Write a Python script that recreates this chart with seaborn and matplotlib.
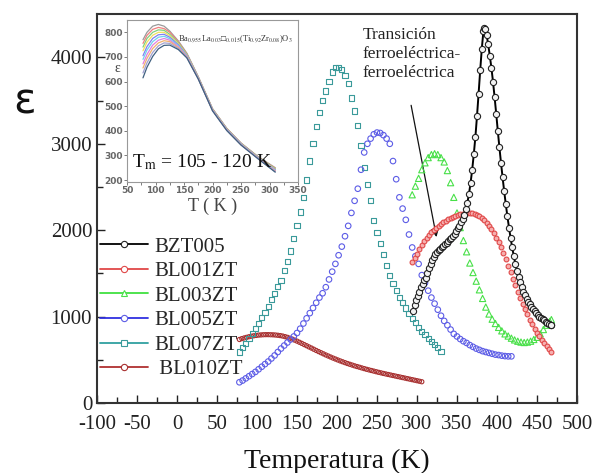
import numpy as np
import pandas as pd
import matplotlib
matplotlib.use("Agg")
import matplotlib.pyplot as plt
from matplotlib.lines import Line2D
import seaborn as sns

# ---------------- data ----------------
teal_T = [78, 82, 86, 90, 94, 98, 102, 106, 110, 114, 118, 122, 126, 130, 134, 138, 142, 146, 150, 154,
          158, 162, 166, 170, 174, 178, 182, 186, 190, 194, 198, 202, 206, 210, 214, 218, 222, 226, 230, 234,
          238, 242, 246, 250, 254, 258, 262, 266, 270, 274, 278, 282, 286, 290, 294, 298, 302, 306, 310, 314,
          318, 322, 326, 330]
teal_E = [590, 640, 690, 745, 800, 860, 920, 985, 1050, 1120, 1195, 1270, 1345, 1420, 1530, 1640, 1760, 1900, 2050, 2210,
          2380, 2580, 2800, 3000, 3200, 3360, 3500, 3610, 3720, 3830, 3880, 3885, 3860, 3790, 3700, 3530, 3380, 3210, 2980, 2730,
          2530, 2340, 2110, 1970, 1850, 1720, 1590, 1480, 1380, 1300, 1225, 1160, 1100, 1040, 980, 930, 875, 830, 790, 750,
          710, 675, 640, 600]

blue_T = [78, 82, 86, 90, 94, 98, 102, 106, 110, 114, 118, 122, 126, 130, 134, 138, 142, 146, 150, 154,
          158, 162, 166, 170, 174, 178, 182, 186, 190, 194, 198, 202, 206, 210, 214, 218, 222, 226, 230, 234,
          238, 242, 246, 250, 254, 258, 262, 266, 270, 274, 278, 282, 286, 290, 294, 298, 302, 306, 310, 314,
          318, 322, 326, 330, 334, 338, 342, 346, 350, 354, 358, 362, 366, 370, 374, 378, 382, 386, 390, 394,
          398, 402, 406, 410, 414, 418]
blue_E = [240, 260, 285, 310, 335, 360, 390, 420, 450, 480, 515, 550, 590, 630, 665, 700, 735, 770, 810, 860,
          920, 980, 1040, 1100, 1160, 1220, 1270, 1340, 1430, 1520, 1610, 1710, 1810, 1930, 2050, 2200, 2340, 2480, 2700, 2900,
          3000, 3060, 3110, 3130, 3125, 3100, 3060, 3000, 2800, 2590, 2380, 2250, 2120, 1950, 1800, 1700, 1610, 1480, 1390, 1300,
          1220, 1150, 1080, 1010, 950, 900, 850, 800, 770, 740, 715, 695, 670, 650, 630, 615, 600, 590, 580, 570,
          560, 555, 548, 543, 540, 540]

green_T = [294, 298, 302, 306, 310, 314, 318, 322, 326, 330, 334, 338, 342, 346, 350, 354, 358, 362, 366, 370,
           374, 378, 382, 386, 390, 394, 398, 402, 406, 410, 414, 418, 422, 426, 430, 434, 438, 442, 446, 450,
           454, 458, 462, 466, 468]
green_E = [2410, 2510, 2600, 2700, 2780, 2840, 2875, 2885, 2875, 2840, 2790, 2690, 2550, 2380, 2200, 2030, 1880, 1750, 1620, 1510,
           1410, 1310, 1210, 1110, 1030, 970, 920, 875, 835, 800, 775, 750, 730, 715, 705, 700, 705, 715, 735, 760,
           800, 850, 900, 945, 965]

red_T = [294, 297, 300, 303, 306, 309, 312, 315, 318, 321, 324, 327, 330, 333, 336, 339, 342, 345, 348, 351,
         354, 357, 360, 363, 366, 369, 372, 375, 378, 381, 384, 387, 390, 393, 396, 399, 402, 405, 408, 411,
         414, 417, 420, 423, 426, 429, 432, 435, 438, 441, 444, 447, 450, 453, 456, 459, 462, 465, 468]
red_E = [1630, 1680, 1730, 1780, 1830, 1870, 1910, 1945, 1975, 2000, 2025, 2050, 2070, 2090, 2110, 2125, 2140, 2155, 2165, 2175,
         2185, 2192, 2198, 2200, 2200, 2198, 2190, 2178, 2160, 2140, 2115, 2085, 2050, 2010, 1965, 1915, 1860, 1800, 1735, 1665,
         1590, 1515, 1440, 1365, 1290, 1220, 1150, 1085, 1025, 965, 910, 860, 815, 770, 730, 690, 655, 620, 590]

black_T = [295, 297, 299, 301, 303, 305, 307, 309, 311, 313, 315, 317, 319, 321, 323, 325, 327, 329, 331, 333,
           335, 337, 339, 341, 343, 345, 347, 349, 351, 353, 355, 357, 359, 361, 363, 365, 367, 369, 371, 373,
           375, 377, 379, 381, 383, 384, 385, 387, 389, 391, 393, 395, 397, 399, 401, 403, 405, 407, 409, 411,
           413, 415, 417, 419, 421, 423, 425, 427, 429, 431, 433, 435, 437, 439, 441, 443, 445, 447, 449, 451,
           453, 455, 457, 459, 461, 463, 465, 467, 468]
black_E = [1066, 1130, 1190, 1240, 1290, 1340, 1380, 1420, 1450, 1500, 1560, 1610, 1650, 1690, 1720, 1745, 1765, 1785, 1805, 1820,
           1840, 1855, 1875, 1895, 1915, 1935, 1960, 1990, 2020, 2050, 2090, 2130, 2180, 2240, 2320, 2420, 2550, 2700, 2880, 3080,
           3320, 3580, 3850, 4100, 4300, 4340, 4330, 4260, 4150, 4020, 3880, 3720, 3540, 3350, 3150, 2960, 2780, 2610, 2450, 2300,
           2160, 2030, 1910, 1800, 1700, 1610, 1530, 1460, 1395, 1340, 1290, 1245, 1205, 1170, 1140, 1110, 1085, 1060, 1040, 1020,
           1000, 985, 970, 955, 940, 928, 917, 907, 900]

dred_T = [78, 81, 84, 87, 90, 93, 96, 99, 102, 105, 108, 111, 114, 117, 120, 123, 126, 129, 132, 135,
          138, 141, 144, 147, 150, 153, 156, 159, 162, 165, 168, 171, 174, 177, 180, 183, 186, 189, 192, 195,
          198, 201, 204, 207, 210, 213, 216, 219, 222, 225, 228, 231, 234, 237, 240, 243, 246, 249, 252, 255,
          258, 261, 264, 267, 270, 273, 276, 279, 282, 285, 288, 291, 294, 297, 300, 303, 306]
dred_E = [735, 745, 753, 760, 767, 773, 778, 782, 786, 788, 790, 791, 791, 790, 789, 787, 784, 780, 775, 768,
          760, 750, 740, 728, 716, 703, 690, 676, 663, 649, 636, 622, 608, 595, 582, 569, 556, 544, 532, 520,
          509, 498, 487, 477, 467, 457, 448, 439, 430, 422, 414, 406, 398, 390, 383, 376, 369, 362, 355, 349,
          342, 336, 330, 324, 318, 312, 306, 300, 294, 288, 282, 276, 270, 264, 258, 252, 246]

series_names = ["BZT005", "BL001ZT", "BL003ZT", "BL005ZT", "BL007ZT", " BL010ZT"]

# inset: BL010ZT at several frequencies
inset_T = [78, 85, 95, 105, 115, 125, 140, 155, 175, 200, 225, 250, 280, 310]
inset_E = [
    [770, 800, 825, 832, 825, 805, 765, 715, 620, 490, 410, 350, 295, 250],
    [755, 788, 812, 820, 815, 800, 762, 712, 618, 489, 409, 350, 294, 248],
    [740, 775, 800, 810, 808, 792, 758, 710, 617, 488, 408, 349, 293, 246],
    [725, 760, 788, 800, 800, 786, 754, 708, 616, 487, 407, 348, 292, 244],
    [705, 742, 775, 790, 792, 780, 750, 706, 615, 486, 406, 347, 291, 242],
    [690, 728, 762, 780, 784, 774, 746, 704, 614, 485, 405, 346, 290, 240],
    [672, 710, 748, 768, 775, 768, 742, 702, 613, 484, 404, 345, 289, 238],
    [655, 694, 734, 757, 766, 762, 738, 700, 612, 483, 403, 344, 288, 236],
    [635, 676, 718, 745, 757, 755, 734, 698, 611, 482, 402, 343, 287, 234],
    [615, 658, 702, 733, 747, 748, 730, 696, 610, 481, 401, 342, 286, 232],
]
x_ticks = [-100, -50, 0, 50, 100, 150, 200, 250, 300, 350, 400, 450, 500]
y_ticks = [0, 1000, 2000, 3000, 4000]
inset_xticks = [50, 100, 150, 200, 250, 300, 350]
inset_yticks = [200, 300, 400, 500, 600, 700, 800]

# ---------------- styling ----------------
sns.set_theme(style="ticks")
plt.rcParams["font.family"] = ["Liberation Serif", "DejaVu Serif"]
plt.rcParams["mathtext.fontset"] = "stix"
plt.rcParams["axes.unicode_minus"] = False

fig = plt.figure(figsize=(5.93, 4.73), dpi=100)
ax = fig.add_axes([0.1636, 0.148, 0.8094, 0.822])

styles = {
    "BZT005":   dict(marker="o", s=20, fc="#f2f2f2", ec="#222222", lc="#000000"),
    "BL001ZT":  dict(marker="o", s=12, fc="#f6b0b0", ec="#e04848", lc="#e04848"),
    "BL003ZT":  dict(marker="^", s=20, fc="none", ec="#48e048", lc="#40e040"),
    "BL005ZT":  dict(marker="o", s=16, fc="none", ec="#5c5ce6", lc="#3030e0"),
    "BL007ZT":  dict(marker="s", s=14, fc="none", ec="#3a9a9a", lc="#30a0a0"),
    " BL010ZT": dict(marker="o", s=9, fc="none", ec="#a83030", lc="#b03030"),
}
data_pairs = [(black_T, black_E), (red_T, red_E), (green_T, green_E),
              (blue_T, blue_E), (teal_T, teal_E), (dred_T, dred_E)]
frames = []
for name, (t, e) in zip(series_names, data_pairs):
    frames.append(pd.DataFrame({"T": t, "eps": e, "series": name}))
df = pd.concat(frames, ignore_index=True)

order = [" BL010ZT", "BL007ZT", "BL005ZT", "BL003ZT", "BL001ZT", "BZT005"]
for name in order:
    sub = df[df["series"] == name]
    st = styles[name]
    if name == "BZT005":
        sns.lineplot(data=sub, x="T", y="eps", ax=ax, color="#000000", lw=1.4, sort=False,
                     legend=False, zorder=3)
    sns.scatterplot(data=sub, x="T", y="eps", ax=ax, marker=st["marker"], s=st["s"],
                    facecolors=st["fc"], edgecolors=st["ec"], linewidths=0.8,
                    legend=False, zorder=4)

ax.set_xlim(-100, 500)
ax.set_ylim(0, 4500)
ax.set_xticks(x_ticks)
ax.set_yticks(y_ticks)
ax.set_xticks(np.arange(-75, 500, 50), minor=True)
ax.set_yticks(np.arange(500, 4500, 1000), minor=True)
ax.tick_params(axis="both", which="both", direction="in", colors="#222222", labelsize=15, width=1.0)
ax.tick_params(axis="both", which="major", length=6)
ax.tick_params(axis="both", which="minor", length=4)
ax.tick_params(axis="x", which="major", pad=9)
for sp in ax.spines.values():
    sp.set_color("#333333")
    sp.set_linewidth(1.5)
ax.set_xlabel("Temperatura (K)", fontsize=20, labelpad=10, color="#111111")
ax.set_ylabel("")
fig.text(0.042, 0.785, "ε", fontsize=30, family="DejaVu Sans", ha="center", va="center", color="#111111")

# legend
handles = []
for name in series_names:
    st = styles[name]
    handles.append(Line2D([0], [0], color=st["lc"], lw=1.3, marker=st["marker"],
                          markersize=4.5, markerfacecolor="white", markeredgecolor=st["ec"],
                          markeredgewidth=0.8))
ax.legend(handles, series_names, loc="upper left", bbox_to_anchor=(0.006, 0.427),
          frameon=False, fontsize=15, handlelength=2.3, handletextpad=0.3,
          labelspacing=0.24, borderpad=0, borderaxespad=0)

# annotation
ax.annotate("", xy=(325, 1889), xytext=(292, 3477),
            arrowprops=dict(arrowstyle="-|>", color="#111111", lw=0.9, mutation_scale=12))
ax.text(232, 4350, "Transición\nferroeléctrica-\nferroeléctrica", fontsize=12.5,
        ha="left", va="top", color="#222222", linespacing=1.25)

# ---------------- inset ----------------
ins = fig.add_axes([0.2142, 0.6152, 0.2884, 0.3425])
inset_colors = ["#9a9a9a", "#f08080", "#80d080", "#f0e060", "#8080f0",
                "#70d0f0", "#e080e0", "#f0b070", "#a0a0d0", "#406080"]
rows = []
for i, curve in enumerate(inset_E):
    for t, e in zip(inset_T, curve):
        rows.append({"T": t, "eps": e, "f": i})
idf = pd.DataFrame(rows)
sns.lineplot(data=idf, x="T", y="eps", hue="f", palette=inset_colors, ax=ins,
             lw=0.9, legend=False)
ins.set_xlim(50, 350)
ins.set_ylim(192, 850)
ins.set_xticks(inset_xticks)
ins.set_yticks(inset_yticks)
ins.set_xticks(np.arange(75, 350, 50), minor=True)
ins.tick_params(axis="both", which="both", direction="out", colors="#666666",
                labelsize=6.5, length=2, width=0.6, pad=1)
for lab in ins.get_xticklabels() + ins.get_yticklabels():
    lab.set_family("DejaVu Sans")
    lab.set_fontweight("bold")
for sp in ins.spines.values():
    sp.set_color("#999999")
    sp.set_linewidth(0.8)
ins.set_xlabel("T ( K )", fontsize=13, color="#444444", labelpad=2)
ins.set_ylabel("")
fig.text(117 / 593, 1 - 68 / 473, "ε", fontsize=10, ha="center", va="center", color="#444444")
ins.text(0.97, 0.88, r"Ba$_{0.955}$La$_{0.03}$□$_{0.015}$(Ti$_{0.92}$Zr$_{0.08}$)O$_3$",
         transform=ins.transAxes, fontsize=6, ha="right", va="center", color="#333333",
         family=["Liberation Serif", "DejaVu Sans"])
ins.text(0.03, 0.12, r"T$_{\rm m}$ = 105 - 120 K", transform=ins.transAxes, fontsize=14,
         ha="left", va="center", color="#111111")

fig.savefig("out.png", dpi=100)
